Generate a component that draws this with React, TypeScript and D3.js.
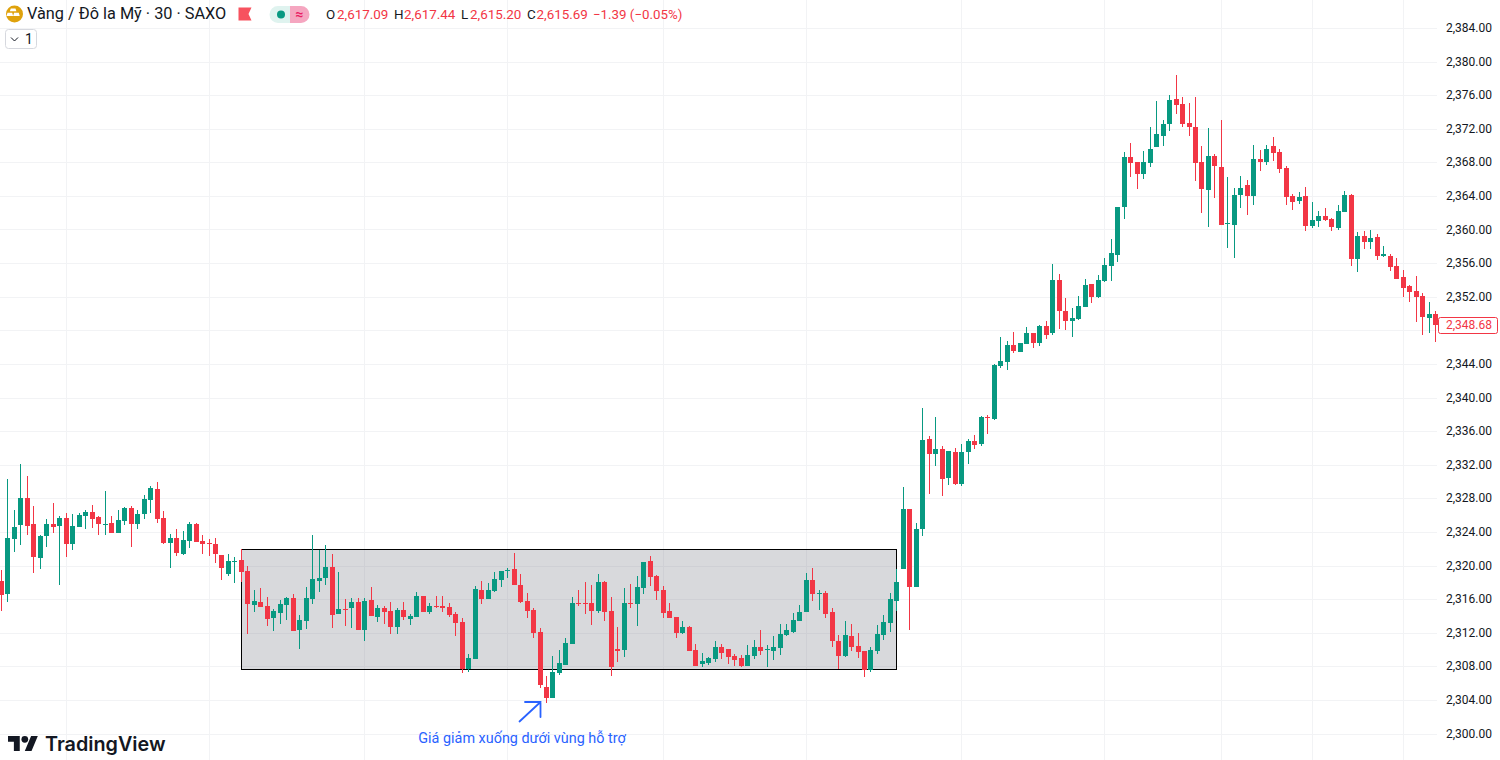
import * as d3 from "d3";

const opens = [
  2318.21, 2316.67, 2323.21, 2324.88, 2328.10, 2325.00, 2320.95, 2323.57, 2325.00, 2324.76,
  2325.71, 2322.62, 2324.64, 2325.95, 2326.43, 2325.83, 2324.88, 2325.12, 2323.93, 2325.36,
  2326.91, 2325.00, 2326.19, 2327.86, 2329.17, 2325.71, 2322.74, 2323.33, 2321.43, 2322.98,
  2325.00, 2322.98, 2322.74, 2322.62, 2321.31, 2319.05, 2320.48, 2320.71, 2319.41, 2315.36,
  2315.71, 2315.24, 2313.81, 2314.41, 2315.36, 2316.19, 2312.38, 2313.45, 2316.07, 2318.21,
  2318.57, 2319.88, 2314.29, 2314.88, 2315.00, 2315.71, 2312.38, 2315.95, 2313.93, 2315.00,
  2314.64, 2312.74, 2314.76, 2313.69, 2313.93, 2316.43, 2314.52, 2315.24, 2315.24, 2315.12,
  2314.29, 2313.33, 2307.74, 2308.93, 2317.14, 2316.07, 2317.02, 2318.33, 2319.41, 2319.64,
  2317.74, 2315.83, 2314.76, 2312.14, 2305.60, 2304.29, 2307.26, 2308.21, 2310.71, 2315.60,
  2315.60, 2315.60, 2314.64, 2318.10, 2314.64, 2310.12, 2310.00, 2315.60, 2315.48, 2317.38,
  2320.60, 2318.81, 2317.14, 2314.64, 2313.93, 2312.02, 2312.74, 2310.00, 2308.33, 2308.45,
  2308.93, 2310.36, 2310.12, 2309.29, 2309.05, 2308.10, 2309.29, 2310.36, 2310.00, 2309.88,
  2310.24, 2311.79, 2312.14, 2313.45, 2314.52, 2318.33, 2316.67, 2316.79, 2314.52, 2311.07,
  2309.29, 2311.67, 2310.48, 2309.88, 2307.62, 2309.88, 2311.79, 2313.21, 2315.83, 2319.64,
  2326.79, 2317.50, 2324.41, 2335.12, 2333.33, 2333.93, 2330.48, 2333.57, 2329.76, 2333.57,
  2334.88, 2334.52, 2337.74, 2337.50, 2343.81, 2344.29, 2346.31, 2345.48, 2346.43, 2347.74,
  2346.55, 2348.57, 2347.74, 2354.05, 2350.36, 2349.17, 2349.41, 2350.83, 2353.57, 2352.02,
  2353.93, 2355.71, 2357.02, 2362.74, 2368.69, 2368.10, 2366.67, 2367.98, 2369.88, 2371.19,
  2372.62, 2375.60, 2375.00, 2372.74, 2372.26, 2368.10, 2364.76, 2368.81, 2367.50, 2360.71,
  2360.60, 2364.17, 2365.36, 2364.05, 2368.45, 2368.10, 2370.00, 2369.29, 2367.38, 2364.05,
  2363.45, 2364.05, 2360.48, 2361.07, 2361.67, 2361.31, 2360.24, 2362.14, 2364.17, 2356.55,
  2359.29, 2358.57, 2359.17, 2356.91, 2356.91, 2355.71, 2354.41, 2353.33, 2352.74, 2352.14,
  2349.52, 2350.00,
];

const highs = [
  2319.52, 2330.36, 2326.67, 2332.14, 2330.71, 2327.14, 2323.69, 2325.60, 2327.50, 2325.95,
  2326.31, 2326.19, 2326.31, 2326.67, 2327.26, 2325.95, 2328.93, 2325.95, 2326.67, 2327.02,
  2327.14, 2326.67, 2328.45, 2329.52, 2330.00, 2326.55, 2323.81, 2324.41, 2324.17, 2325.24,
  2325.12, 2323.69, 2323.21, 2323.33, 2321.31, 2321.43, 2321.07, 2322.02, 2320.00, 2317.14,
  2317.38, 2316.31, 2314.88, 2315.95, 2316.31, 2316.67, 2314.17, 2317.50, 2323.69, 2321.91,
  2322.50, 2321.43, 2319.29, 2316.07, 2316.19, 2316.19, 2316.19, 2317.50, 2315.36, 2315.24,
  2315.71, 2315.00, 2315.71, 2314.29, 2316.91, 2316.43, 2315.60, 2316.43, 2316.43, 2315.60,
  2314.52, 2313.81, 2309.52, 2317.62, 2318.21, 2317.98, 2319.29, 2319.41, 2319.76, 2321.55,
  2319.05, 2316.79, 2315.00, 2312.62, 2306.91, 2309.29, 2310.00, 2311.43, 2316.31, 2317.14,
  2318.10, 2317.74, 2319.05, 2318.21, 2316.31, 2312.74, 2317.38, 2317.86, 2318.81, 2320.48,
  2321.19, 2318.93, 2317.62, 2315.60, 2313.93, 2313.45, 2312.86, 2310.71, 2309.64, 2309.17,
  2311.07, 2310.71, 2310.12, 2309.52, 2309.41, 2310.60, 2311.19, 2312.38, 2310.60, 2311.67,
  2313.10, 2313.10, 2314.41, 2315.36, 2319.17, 2319.76, 2317.14, 2317.02, 2315.00, 2311.79,
  2313.45, 2313.10, 2312.02, 2309.88, 2310.36, 2312.98, 2314.17, 2316.79, 2319.64, 2329.41,
  2326.79, 2325.12, 2338.81, 2335.48, 2337.74, 2334.29, 2333.69, 2334.05, 2334.52, 2335.12,
  2335.60, 2337.86, 2337.98, 2344.05, 2347.26, 2346.79, 2347.86, 2346.55, 2348.45, 2347.74,
  2348.69, 2349.17, 2355.95, 2354.76, 2351.91, 2350.71, 2352.14, 2354.17, 2353.57, 2354.64,
  2356.67, 2358.93, 2362.74, 2369.29, 2370.36, 2368.10, 2369.41, 2372.26, 2375.36, 2373.10,
  2376.07, 2378.45, 2375.83, 2375.12, 2375.83, 2370.00, 2372.14, 2369.05, 2373.10, 2366.31,
  2365.00, 2366.43, 2365.95, 2370.12, 2369.52, 2370.12, 2371.07, 2369.64, 2367.62, 2364.29,
  2364.52, 2365.12, 2363.33, 2362.26, 2362.62, 2361.43, 2362.98, 2364.64, 2364.29, 2359.76,
  2359.88, 2360.00, 2359.52, 2358.10, 2357.14, 2356.67, 2355.24, 2353.45, 2354.52, 2352.50,
  2351.43, 2350.36,
];

const lows = [
  2314.64, 2315.71, 2321.67, 2322.50, 2323.69, 2319.17, 2319.64, 2322.26, 2323.93, 2317.74,
  2321.07, 2321.91, 2324.64, 2324.41, 2324.52, 2323.69, 2323.69, 2323.93, 2323.93, 2324.88,
  2322.26, 2324.41, 2325.60, 2326.31, 2325.12, 2322.62, 2319.76, 2321.19, 2321.31, 2322.14,
  2322.86, 2321.43, 2321.19, 2320.36, 2318.33, 2318.81, 2317.98, 2318.10, 2311.91, 2314.52,
  2315.12, 2312.86, 2312.26, 2313.10, 2313.57, 2312.26, 2310.12, 2312.50, 2315.48, 2316.91,
  2317.74, 2312.62, 2314.29, 2312.86, 2312.62, 2312.38, 2311.07, 2314.05, 2313.33, 2313.10,
  2311.91, 2311.91, 2313.57, 2312.98, 2313.93, 2314.52, 2314.29, 2315.00, 2314.52, 2313.93,
  2311.67, 2307.26, 2307.38, 2308.93, 2315.48, 2316.07, 2316.91, 2317.50, 2318.57, 2317.74,
  2315.60, 2313.81, 2311.43, 2305.48, 2303.69, 2304.29, 2307.02, 2308.21, 2310.71, 2315.24,
  2314.29, 2312.98, 2314.41, 2313.45, 2306.91, 2308.57, 2309.17, 2315.00, 2312.86, 2316.67,
  2317.62, 2315.95, 2313.81, 2313.81, 2311.43, 2311.91, 2309.88, 2308.10, 2307.98, 2308.21,
  2308.57, 2308.93, 2308.33, 2308.10, 2307.98, 2308.10, 2308.93, 2309.41, 2307.98, 2308.81,
  2309.41, 2311.67, 2312.02, 2313.45, 2314.52, 2315.83, 2314.76, 2313.81, 2310.36, 2307.74,
  2309.17, 2309.88, 2309.05, 2306.79, 2307.38, 2309.52, 2311.19, 2312.14, 2314.64, 2319.64,
  2312.38, 2317.50, 2323.57, 2328.57, 2331.91, 2328.33, 2329.64, 2329.64, 2329.52, 2332.14,
  2333.93, 2334.29, 2335.71, 2337.38, 2343.57, 2343.33, 2345.36, 2345.48, 2346.43, 2345.95,
  2346.19, 2347.02, 2347.50, 2348.21, 2348.10, 2347.26, 2349.29, 2350.83, 2351.31, 2351.91,
  2353.81, 2353.93, 2356.19, 2361.31, 2366.31, 2364.88, 2366.07, 2367.50, 2369.88, 2370.00,
  2371.79, 2373.81, 2372.26, 2371.19, 2365.83, 2362.02, 2360.36, 2363.81, 2360.60, 2357.86,
  2356.67, 2362.62, 2361.79, 2362.98, 2367.02, 2367.74, 2368.21, 2366.79, 2362.98, 2362.38,
  2363.10, 2359.88, 2360.24, 2360.36, 2361.07, 2359.88, 2360.00, 2362.14, 2355.71, 2355.00,
  2357.74, 2357.74, 2356.43, 2356.79, 2355.12, 2354.17, 2352.02, 2351.43, 2349.05, 2347.50,
  2347.74, 2346.67,
];

const closes = [
  2316.55, 2323.33, 2324.64, 2328.10, 2324.76, 2321.07, 2323.57, 2325.00, 2324.64, 2325.71,
  2322.62, 2324.76, 2326.07, 2326.43, 2325.60, 2325.00, 2325.00, 2323.93, 2325.48, 2326.91,
  2325.00, 2326.19, 2327.98, 2329.29, 2325.60, 2322.74, 2323.33, 2321.55, 2323.10, 2325.00,
  2322.86, 2322.62, 2322.62, 2321.43, 2319.76, 2320.60, 2320.60, 2319.29, 2315.48, 2315.83,
  2315.12, 2313.69, 2314.64, 2315.48, 2316.19, 2312.26, 2313.57, 2316.19, 2318.45, 2318.57,
  2319.88, 2314.17, 2314.88, 2314.76, 2315.71, 2312.38, 2315.83, 2314.05, 2315.00, 2314.52,
  2312.74, 2314.76, 2313.93, 2314.05, 2316.43, 2314.52, 2315.24, 2315.12, 2315.00, 2314.17,
  2313.21, 2307.74, 2309.05, 2317.26, 2316.07, 2317.14, 2318.45, 2319.41, 2319.52, 2317.74,
  2315.71, 2314.64, 2312.02, 2305.83, 2304.29, 2307.38, 2308.45, 2310.83, 2315.60, 2315.48,
  2315.48, 2314.64, 2318.10, 2314.52, 2307.98, 2309.88, 2315.60, 2315.48, 2317.50, 2320.48,
  2318.69, 2317.02, 2314.41, 2313.81, 2312.02, 2312.74, 2309.88, 2308.10, 2308.69, 2309.05,
  2310.36, 2309.64, 2309.17, 2308.81, 2308.10, 2309.41, 2310.36, 2309.88, 2310.12, 2310.36,
  2311.91, 2312.38, 2313.57, 2314.52, 2318.33, 2316.67, 2316.79, 2314.29, 2311.07, 2309.29,
  2311.79, 2310.36, 2309.76, 2307.62, 2310.00, 2311.91, 2313.33, 2316.07, 2318.10, 2326.79,
  2317.50, 2324.41, 2335.00, 2333.33, 2333.93, 2330.36, 2333.69, 2329.76, 2333.57, 2334.88,
  2334.40, 2337.74, 2337.62, 2343.93, 2344.40, 2346.31, 2345.60, 2346.55, 2347.74, 2346.55,
  2348.57, 2347.50, 2354.05, 2350.36, 2349.17, 2349.52, 2350.95, 2353.45, 2352.02, 2354.05,
  2355.83, 2357.26, 2362.74, 2368.69, 2367.98, 2366.67, 2368.10, 2369.64, 2371.43, 2372.62,
  2375.48, 2374.88, 2372.62, 2372.26, 2367.98, 2364.88, 2368.81, 2367.62, 2360.60, 2360.83,
  2364.17, 2365.00, 2364.05, 2368.45, 2368.10, 2369.64, 2369.17, 2367.26, 2363.93, 2363.33,
  2363.93, 2360.48, 2361.19, 2361.67, 2361.19, 2360.36, 2362.26, 2364.17, 2356.55, 2359.29,
  2358.57, 2359.05, 2356.91, 2357.14, 2355.60, 2354.17, 2353.10, 2352.62, 2352.02, 2349.64,
  2350.00, 2348.68,
];

// candle index where the time grid falls
const timeGridBars = [10, 32, 56, 78, 102, 124, 148, 170, 188, 202, 216];
const priceTicks = d3.range(2300, 2388, 4);
const lastPrice = 2348.68;
const supportLow = 2307.64;
const supportHigh = 2321.93;
const supportFromBar = 37;
const supportToBar = 138;

const GREEN = "#089981";
const RED = "#f23645";
const INK = "#131722";
const BLUE = "#2962ff";
const FONT = "Roboto, sans-serif";

const xScale = d3.scaleLinear().domain([0, 221]).range([1.33, 1435.62]);
const yScale = d3.scaleLinear().domain([2300, 2384]).range([734, 28.4]);
const fmt = d3.format(",.2f");

function Candles() {
  return (
    <g shapeRendering="crispEdges">
      {opens.map((o, i) => {
        const c = closes[i];
        const color = c >= o ? GREEN : RED;
        const x = Math.floor(xScale(i));
        const top = Math.round(yScale(Math.max(o, c)));
        const bottom = Math.round(yScale(Math.min(o, c)));
        const yHigh = Math.round(yScale(highs[i]));
        const yLow = Math.round(yScale(lows[i]));
        return (
          <g key={i} fill={color}>
            <rect x={x} y={yHigh} width={1} height={Math.max(1, yLow - yHigh)} />
            <rect x={x - 2} y={top} width={5} height={Math.max(1, bottom - top)} />
          </g>
        );
      })}
    </g>
  );
}

function Grid() {
  return (
    <g stroke="#f2f3f5" strokeWidth={1} shapeRendering="crispEdges">
      {priceTicks.map((p) => {
        const y = Math.floor(yScale(p)) + 0.5;
        return <line key={p} x1={0} x2={1437} y1={y} y2={y} />;
      })}
      {timeGridBars.map((b) => {
        const x = Math.floor(xScale(b)) + 0.5;
        return <line key={b} x1={x} x2={x} y1={0} y2={760} />;
      })}
    </g>
  );
}

function PriceAxis() {
  const yLast = yScale(lastPrice);
  // the tick hidden behind the last price tag is left out
  const visibleTicks = priceTicks.filter((p) => Math.abs(yScale(p) - yLast) > 10);
  return (
    <g fontFamily={FONT} fontSize={12} fill={INK}>
      {visibleTicks.map((p) => (
        <text key={p} x={1446} y={yScale(p) + 3.5}>
          {fmt(p)}
        </text>
      ))}
      <rect x={1438.5} y={Math.round(yLast) - 7.5} width={59} height={16} rx={2} fill="#fff" stroke={RED} />
      <text x={1446} y={yLast + 4} fill={RED}>
        {fmt(lastPrice)}
      </text>
    </g>
  );
}

function Legend() {
  const ohlc = [
    { k: "O", kx: 326, v: "2,617.09", vx: 337 },
    { k: "H", kx: 394, v: "2,617.44", vx: 404 },
    { k: "L", kx: 461, v: "2,615.20", vx: 470 },
    { k: "C", kx: 527, v: "2,615.69", vx: 536.5 },
  ];
  return (
    <g fontFamily={FONT}>
      <circle cx={14.5} cy={14} r={8.5} fill="#dfa20c" />
      <path d="M12 8.5h5l1 3h-7zM8.5 13h5l1 3.5h-7zM15.5 13h5l1 3.5h-7z" fill="#fff" transform="translate(-.5,.5) scale(.94)" />
      <text x={27} y={19} fontSize={16.3} fill={INK}>
        Vàng / Đô la Mỹ · 30 · SAXO
      </text>
      <path d="M238.500 7.500h13l-3 6.500 3 6.500h-13z" fill="#f7525f" />
      <path d="M278 6h12v17h-12a8.500 8.500 0 0 1 0-17z" fill="#dff3ef" />
      <path d="M290 6h11a8.500 8.500 0 0 1 0 17h-11z" fill="#f5a6c0" />
      <circle cx={281} cy={14.500} r={4} fill={GREEN} />
      <text x={299.500} y={19} textAnchor="middle" fontSize={14} fontWeight={700} fill="#e91e63">
        ≈
      </text>
      {ohlc.map((d) => (
        <g key={d.k} fontSize={13.4}>
          <text x={d.kx} y={19} fill={INK}>{d.k}</text>
          <text x={d.vx} y={19} fill={RED}>{d.v}</text>
        </g>
      ))}
      <text x={593} y={19} fontSize={13.3} fill={RED}>
        −1.39 (−0.05%)
      </text>
      <rect x={5.500} y={29.500} width={31} height={19} rx={3} fill="#fff" stroke="#d6d8de" />
      <path d="M11 37.500l3.500 3.500 3.500-3.500" fill="none" stroke={INK} strokeWidth={1} />
      <text x={25} y={43.500} fontSize={14} fill={INK}>1</text>
    </g>
  );
}

function Watermark() {
  return (
    <g>
      <g transform="translate(8,732.6) scale(.84)" fill={INK}>
        <path d="M14 22H7V11H0V4h14v18zM28 22h-8l7.500-18h8L28 22z" />
        <circle cx={20} cy={8} r={4} />
      </g>
      <text x={45} y={751} fontFamily="Inter, sans-serif" fontWeight={600} fontSize={19.8} fill={INK}>
        TradingView
      </text>
    </g>
  );
}

export default function App() {
  const boxX0 = Math.floor(xScale(supportFromBar)) + 0.5;
  const boxX1 = Math.floor(xScale(supportToBar)) + 0.5;
  const boxY0 = Math.floor(yScale(supportHigh)) + 0.5;
  const boxY1 = Math.floor(yScale(supportLow)) + 0.5;
  return (
    <svg width={1500} height={760} style={{ position: "fixed", left: 0, top: 0, background: "#fff" }}>
      <Grid />
      <rect
        x={boxX0}
        y={boxY0}
        width={boxX1 - boxX0}
        height={boxY1 - boxY0}
        fill="#787b86"
        fillOpacity={0.29}
        stroke="#000"
        shapeRendering="crispEdges"
      />
      <Candles />
      <g fill="none" stroke={BLUE} strokeWidth={1.8} strokeLinecap="round">
        <path d="M519.500 721.500L540.500 702M525 702h15.500v15" />
      </g>
      <text x={522} y={743} textAnchor="middle" fontFamily={FONT} fontSize={14.4} fill={BLUE}>
        Giá giảm xuống dưới vùng hỗ trợ
      </text>
      <PriceAxis />
      <Legend />
      <Watermark />
    </svg>
  );
}
